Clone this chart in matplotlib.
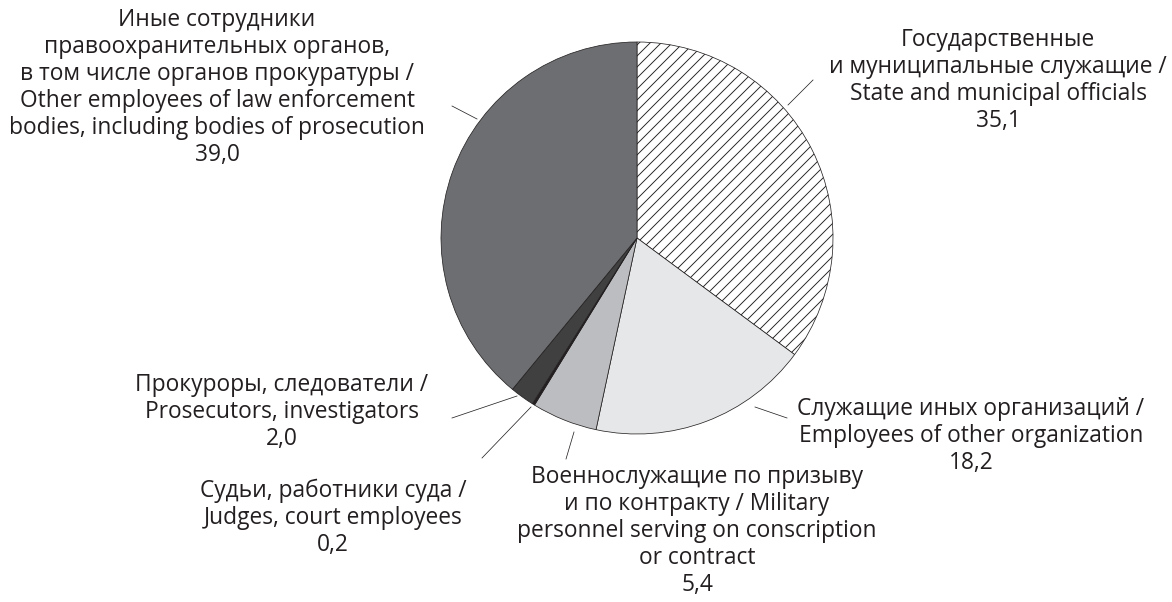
import matplotlib
matplotlib.use("Agg")
import matplotlib.pyplot as plt
import numpy as np

# ---- data ----
values = [35.1, 18.2, 5.4, 0.2, 2.0, 39.0]
value_labels = ["35,1", "18,2", "5,4", "0,2", "2,0", "39,0"]
categories = [
    ["Государственные", "и муниципальные служащие /", "State and municipal officials"],
    ["Служащие иных организаций /", "Employees of other organization"],
    ["Военнослужащие по призыву", "и по контракту / Military",
     "personnel serving on conscription", "or contract"],
    ["Судьи, работники суда /", "Judges, court employees"],
    ["Прокуроры, следователи /", "Prosecutors, investigators"],
    ["Иные сотрудники", "правоохранительных органов,",
     "в том числе органов прокуратуры /", "Other employees of law enforcement",
     "bodies, including bodies of prosecution"],
]
colors = ["white", "#e6e7e8", "#bcbdc0", "#231f20", "#404041", "#6d6e71"]
hatches = ["//", None, None, None, None, None]

# ---- layout (pixel coordinates, y downward) ----
W, H = 1172, 602
DPI = 66
center = (637, 238)
radius = 196
label_pos = [(998, 40), (971, 409), (697, 477), (333, 491), (282, 385), (217, 20)]
line_step = 27
leaders = [((788, 105), (813, 80)), ((755, 407), (787, 418)),
           ((574, 432), (566, 459)), ((531, 407), (482, 458)),
           ((517, 396), (452, 418)), ((452, 106), (477, 119))]

plt.rcParams['hatch.linewidth'] = 1.0
plt.rcParams['hatch.color'] = '#231f20'
plt.rcParams['font.family'] = ['Open Sans', 'DejaVu Sans']

fig = plt.figure(figsize=((W + 0.01) / DPI, (H + 0.01) / DPI), dpi=DPI)
ax = fig.add_axes([0, 0, 1, 1])

def Y(y):
    return H - y

wedges, _ = ax.pie(values, colors=colors, startangle=90, counterclock=False,
                   radius=radius, center=(center[0], Y(center[1])),
                   wedgeprops=dict(edgecolor="#231f20", linewidth=0.8),
                   frame=True)
for w, h in zip(wedges, hatches):
    if h:
        w.set_hatch(h)
ax.set_xlim(0, W)
ax.set_ylim(0, H)
ax.set_aspect('equal')
ax.axis('off')

fs_px = 22.8
fs = fs_px * 72 / DPI
for (x0, y0), lines, v in zip(label_pos, categories, value_labels):
    for i, t in enumerate(lines + [v]):
        ax.text(x0, Y(y0 + i * line_step), t, ha='center', va='center',
                fontsize=fs, color='#231f20')

for (p1, p2) in leaders:
    ax.plot([p1[0], p2[0]], [Y(p1[1]), Y(p2[1])], color='#231f20', lw=0.8)

fig.savefig("out.png", dpi=DPI, facecolor='white')
